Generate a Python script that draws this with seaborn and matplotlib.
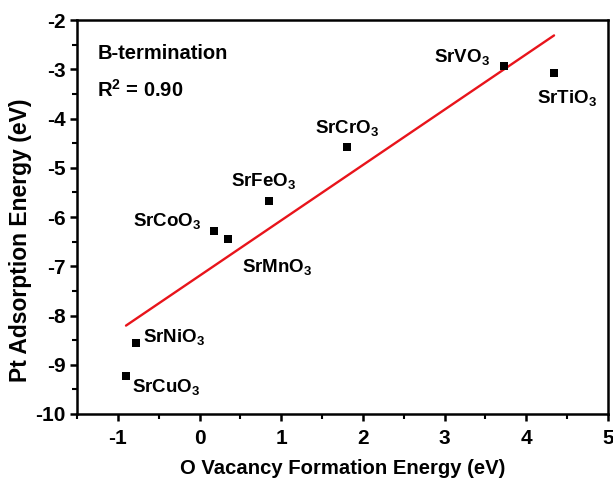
import matplotlib
matplotlib.use("Agg")
import matplotlib.pyplot as plt
from matplotlib.ticker import MultipleLocator
import seaborn as sns
import pandas as pd

# Perovskite oxides (B-site terminated surfaces)
materials = ["SrCuO$_3$", "SrNiO$_3$", "SrCoO$_3$", "SrMnO$_3$",
             "SrFeO$_3$", "SrCrO$_3$", "SrVO$_3$", "SrTiO$_3$"]
vacancy_energy = [-0.90, -0.78, 0.18, 0.35, 0.85, 1.81, 3.73, 4.34]
adsorption_energy = [-9.23, -8.55, -6.28, -6.45, -5.67, -4.58, -2.93, -3.08]

# label placement: offset in points from the marker, plus alignment
label_offsets = [(4, -8), (5, 4), (-9, 7), (10, -20),
                 (-4, 14), (0, 14), (-10, 6), (9, -18)]
label_align = ["left", "left", "right", "left",
               "center", "center", "right", "center"]

df = pd.DataFrame({"vac": vacancy_energy, "ads": adsorption_energy, "name": materials})

sns.set_theme(style="ticks")
plt.rcParams["font.family"] = ["Liberation Sans", "DejaVu Sans"]
plt.rcParams["font.weight"] = "bold"
plt.rcParams["text.color"] = "black"
plt.rcParams["axes.labelcolor"] = "black"
plt.rcParams["axes.unicode_minus"] = False
plt.rcParams["mathtext.fontset"] = "custom"
plt.rcParams["mathtext.rm"] = "Liberation Sans:bold"
plt.rcParams["mathtext.bf"] = "Liberation Sans:bold"
plt.rcParams["mathtext.default"] = "bf"

fig = plt.figure(figsize=(6.13, 4.8), dpi=100)
ax = fig.add_axes([0.1256, 0.1375, 0.8662, 0.8208])

# linear fit across the data range
sns.regplot(data=df, x="vac", y="ads", ax=ax, ci=None, scatter=False,
            truncate=True, line_kws=dict(color="#e8141b", lw=1.7))
sns.scatterplot(data=df, x="vac", y="ads", ax=ax, marker="s", s=38,
                color="black", edgecolor="black", linewidth=0, zorder=3)

for name, x, y, off, ha in zip(materials, vacancy_energy, adsorption_energy,
                               label_offsets, label_align):
    ax.annotate(name, (x, y), xytext=off, textcoords="offset points",
                ha=ha, va="center", fontsize=13.5, fontweight="bold",
                color="black")

ax.text(0.038, 0.915, "B-termination", transform=ax.transAxes,
        fontsize=14.5, fontweight="bold", va="center", ha="left")
ax.text(0.038, 0.823, "R$^2$ = 0.90", transform=ax.transAxes,
        fontsize=14.5, fontweight="bold", va="center", ha="left")

ax.set_xlim(-1.5, 5)
ax.set_ylim(-10, -2)
ax.xaxis.set_major_locator(MultipleLocator(1))
ax.xaxis.set_minor_locator(MultipleLocator(0.5))
ax.yaxis.set_major_locator(MultipleLocator(1))
ax.yaxis.set_minor_locator(MultipleLocator(0.5))

ax.set_xlabel("O Vacancy Formation Energy (eV)", fontsize=14.6,
              fontweight="bold")
ax.set_ylabel("Pt Adsorption Energy (eV)", fontsize=16.5,
              fontweight="bold")
ax.xaxis.set_label_coords(0.5, -0.115)
ax.yaxis.set_label_coords(-0.085, 0.44)

for sp in ax.spines.values():
    sp.set_linewidth(1.8)
    sp.set_color("black")
    sp.set_visible(True)

ax.tick_params(axis="both", which="major", direction="out", length=5,
               width=1.8, labelsize=15, color="black", labelcolor="black")
ax.tick_params(axis="x", which="major", pad=6)
ax.tick_params(axis="y", which="major", pad=3)
ax.tick_params(axis="both", which="minor", direction="out", length=3.5,
               width=1.5, color="black")
ax.tick_params(top=False, right=False, which="both")
for lab in ax.get_xticklabels() + ax.get_yticklabels():
    lab.set_fontweight("bold")

fig.savefig("out.png", dpi=100)
